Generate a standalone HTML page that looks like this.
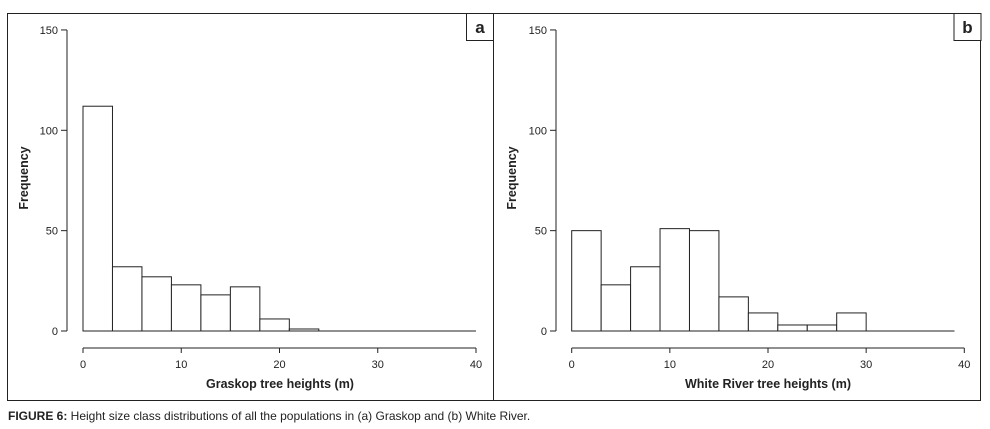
<!DOCTYPE html>
<html><head><meta charset="utf-8">
<style>
html,body{margin:0;padding:0;background:#fff;}
svg{display:block;font-family:"Liberation Sans",sans-serif;}
</style></head>
<body>
<svg id="chart" width="990" height="429" viewBox="0 0 990 429" xmlns="http://www.w3.org/2000/svg">
<rect x="7.5" y="13.5" width="973" height="387" fill="none" stroke="#222" stroke-width="1"/>
<line x1="493.5" y1="13.5" x2="493.5" y2="400.5" stroke="#222"/>
<g id="pa"></g>
<g id="pb"></g>
<text x="8" y="420" font-size="12" fill="#222"><tspan font-weight="bold">FIGURE 6:</tspan> Height size class distributions of all the populations in (a) Graskop and (b) White River.</text>
</svg>
<script>
const binWidth = 3;
const graskopCounts = [112, 32, 27, 23, 18, 22, 6, 1, 0, 0, 0, 0, 0];
const whiteRiverCounts = [50, 23, 32, 51, 50, 17, 9, 3, 3, 9, 0, 0, 0];
const yTicks = [0, 50, 100, 150];
const xTicks = [0, 10, 20, 30, 40];
const NS = "http://www.w3.org/2000/svg";

function mk(parent, tag, attrs, txt) {
  const e = document.createElementNS(NS, tag);
  for (const k in attrs) e.setAttribute(k, attrs[k]);
  if (txt !== undefined) e.textContent = txt;
  parent.appendChild(e);
  return e;
}

function panel(g, cfg, counts) {
  const xS = v => cfg.x0 + v * cfg.xs;
  const yS = v => 331 - v * 2.007;
  // y axis
  const ya = mk(g, "line", {x1: cfg.yax, x2: cfg.yax, y1: yS(0), y2: yS(150), stroke: "#222"});
  
  
  yTicks.forEach(t => {
    const tk = mk(g, "line", {x1: cfg.yax - 6, x2: cfg.yax, y1: yS(t), y2: yS(t), stroke: "#222"});
    
    
    const lb = mk(g, "text", {x: cfg.yax - 9, y: yS(t) + 4, "font-size": 11, "text-anchor": "end", fill: "#222"}, t);
    
    
  });
  // x axis
  const xa = mk(g, "line", {x1: xS(0), x2: xS(40), y1: 348, y2: 348, stroke: "#222"});
  
  
  xTicks.forEach(t => {
    const tk = mk(g, "line", {x1: xS(t), x2: xS(t), y1: 348, y2: 353, stroke: "#222"});
    
    
    const lb = mk(g, "text", {x: xS(t), y: 368, "font-size": 11, "text-anchor": "middle", fill: "#222"}, t);
    
    
  });
  // baseline
  const bl = mk(g, "line", {x1: xS(0), x2: xS(cfg.baseEnd), y1: yS(0), y2: yS(0), stroke: "#222"});
  
  
  counts.forEach((c, i) => {
    if (c <= 0) return;
    const x1 = xS(i * binWidth), x2 = xS((i + 1) * binWidth);
    const r = mk(g, "rect", {x: x1, y: yS(c), width: x2 - x1, height: yS(0) - yS(c), fill: "#fff", stroke: "#222", "stroke-width": 1});
    
    
  });
  const xt = mk(g, "text", {x: cfg.titleX, y: 388, "font-size": 12.5, "font-weight": "bold", "text-anchor": "middle", fill: "#222"}, cfg.xTitle);
  
  
  const yt = mk(g, "text", {x: 0, y: 0, "font-size": 12.5, "font-weight": "bold", "text-anchor": "middle", fill: "#222", transform: `translate(${cfg.ytx},178) rotate(-90)`}, "Frequency");
  
  
  const lbx = mk(g, "rect", {x: cfg.lx, y: 13.5, width: 27, height: 27, fill: "#fff", stroke: "#222"});
  
  
  const lt = mk(g, "text", {x: cfg.lx + 13.5, y: 33, "font-size": 17, "font-weight": "bold", "text-anchor": "middle", fill: "#222"}, cfg.label);
  
  
}

panel(document.getElementById("pa"), {x0: 83, xs: 9.825, yax: 67, baseEnd: 40, titleX: 280, xTitle: "Graskop tree heights (m)", ytx: 28, lx: 466.5, label: "a"}, graskopCounts);
panel(document.getElementById("pb"), {x0: 571.7, xs: 9.815, yax: 556, baseEnd: 39, titleX: 768, xTitle: "White River tree heights (m)", ytx: 516, lx: 954, label: "b"}, whiteRiverCounts);
</script>
</body></html>
